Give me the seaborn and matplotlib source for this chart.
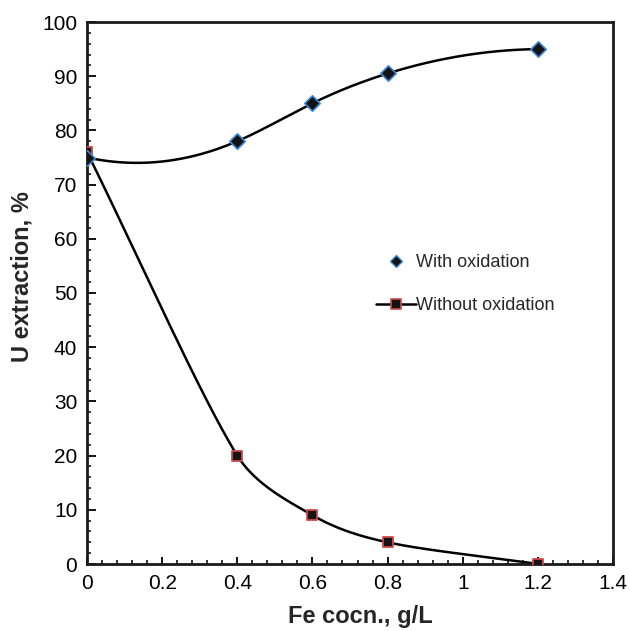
import numpy as np
import pandas as pd
import matplotlib
matplotlib.use("Agg")
import matplotlib.pyplot as plt
from matplotlib.lines import Line2D
from matplotlib.ticker import MultipleLocator, FixedLocator
import seaborn as sns

# ---- data ----
fe_conc = [0.0, 0.4, 0.6, 0.8, 1.2]
with_oxidation = [75.0, 78.0, 85.0, 90.5, 95.0]
without_oxidation = [76.0, 20.0, 9.0, 4.0, 0.0]
x_ticks = [0, 0.2, 0.4, 0.6, 0.8, 1, 1.2, 1.4]
x_tick_labels = ["0", "0.2", "0.4", "0.6", "0.8", "1", "1.2", "1.4"]
y_ticks = [0, 10, 20, 30, 40, 50, 60, 70, 80, 90, 100]
series_labels = ["With oxidation", "Without oxidation"]
x_label = "Fe cocn., g/L"
y_label = "U extraction, %"

X_LIM = (0, 1.4)
Y_LIM = (0, 100)


# ---- smoothing helpers (rendering of the smoothed connecting lines) ----
def spline_curve(x, y, n=400):
    """cubic spline in x with parabolic run-out ends"""
    x = np.asarray(x, float)
    y = np.asarray(y, float)
    k = len(x)
    h = np.diff(x)
    A = np.zeros((k, k))
    b = np.zeros(k)
    A[0, 0], A[0, 1] = 1, -1
    A[-1, -1], A[-1, -2] = 1, -1
    for i in range(1, k - 1):
        A[i, i - 1] = h[i - 1]
        A[i, i] = 2 * (h[i - 1] + h[i])
        A[i, i + 1] = h[i]
        b[i] = 6 * ((y[i + 1] - y[i]) / h[i] - (y[i] - y[i - 1]) / h[i - 1])
    M = np.linalg.solve(A, b)
    xs = np.linspace(x[0], x[-1], n)
    ys = np.empty_like(xs)
    for j, v in enumerate(xs):
        i = min(np.searchsorted(x, v, side="right") - 1, k - 2)
        a = x[i + 1] - v
        c = v - x[i]
        ys[j] = ((M[i] * a ** 3 + M[i + 1] * c ** 3) / (6 * h[i])
                 + (y[i] / h[i] - M[i] * h[i] / 6) * a
                 + (y[i + 1] / h[i] - M[i + 1] * h[i] / 6) * c)
    return xs, ys


def bezier_curve(x, y, sx, sy, n=200, cap=0.35):
    """Catmull-Rom style Bezier smoothing in display proportions,
    control arms limited to a fraction of the segment length"""
    P = np.c_[np.asarray(x, float) * sx, np.asarray(y, float) * sy]
    m = len(P)
    T = np.zeros_like(P)
    for i in range(1, m - 1):
        T[i] = (P[i + 1] - P[i - 1]) / 2
    T[0] = P[1] - P[0]
    T[-1] = P[-1] - P[-2]
    s = np.linspace(0, 1, n)[:, None]
    pts = []
    for i in range(m - 1):
        b0, b3 = P[i], P[i + 1]
        seg = np.hypot(*(b3 - b0))
        a1 = T[i] / 3
        a2 = T[i + 1] / 3
        l1, l2 = np.hypot(*a1), np.hypot(*a2)
        if l1 > cap * seg:
            a1 = a1 * cap * seg / l1
        if l2 > cap * seg:
            a2 = a2 * cap * seg / l2
        b1 = b0 + a1
        b2 = b3 - a2
        c = (1 - s) ** 3 * b0 + 3 * (1 - s) ** 2 * s * b1 + 3 * (1 - s) * s ** 2 * b2 + s ** 3 * b3
        pts.append(c)
    pts = np.vstack(pts)
    return pts[:, 0] / sx, pts[:, 1] / sy


sns.set_theme(style="white")
plt.rcParams["font.family"] = ["Liberation Sans", "DejaVu Sans"]

W, H = 630, 631
fig = plt.figure(figsize=(W / 100, H / 100), dpi=100)
ax_l, ax_r, ax_t, ax_b = 87, 613, 22, 564
ax_w, ax_h = ax_r - ax_l, ax_b - ax_t
ax = fig.add_axes([ax_l / W, (H - ax_b) / H, ax_w / W, ax_h / H])

df = pd.DataFrame({"x": fe_conc, "with": with_oxidation, "without": without_oxidation})

sx = ax_w / (X_LIM[1] - X_LIM[0])
sy = ax_h / (Y_LIM[1] - Y_LIM[0])
ux, uy = spline_curve(fe_conc, with_oxidation)
lx, ly = bezier_curve(fe_conc, without_oxidation, sx, sy)
up_df = pd.DataFrame({"x": ux, "y": uy})
lo_df = pd.DataFrame({"x": lx, "y": ly})

line_w = 1.8
sns.lineplot(data=up_df, x="x", y="y", ax=ax, color="black", lw=line_w, sort=False, zorder=2)
sns.lineplot(data=lo_df, x="x", y="y", ax=ax, color="black", lw=line_w, sort=False, zorder=2)

sq_face, sq_edge = "#141414", "#d04848"
di_face, di_edge = "#141414", "#3f86d6"
sns.scatterplot(data=df, x="x", y="without", ax=ax, marker="s", s=55, color=sq_face,
                edgecolor=sq_edge, linewidth=1.3, zorder=3)
sns.scatterplot(data=df, x="x", y="with", ax=ax, marker="D", s=62, color=di_face,
                edgecolor=di_edge, linewidth=1.2, zorder=4)

ax.set_xlim(*X_LIM)
ax.set_ylim(*Y_LIM)
ax.xaxis.set_major_locator(FixedLocator(x_ticks))
ax.set_xticklabels(x_tick_labels)
ax.xaxis.set_minor_locator(MultipleLocator(0.04))
ax.yaxis.set_major_locator(FixedLocator(y_ticks))
ax.yaxis.set_minor_locator(MultipleLocator(2))
ax.tick_params(axis="both", which="major", direction="in", width=1.3,
               labelsize=15, colors="black", bottom=True, left=True)
ax.tick_params(axis="both", which="minor", direction="in", length=3.2, width=1.3,
               bottom=True, left=True)
ax.tick_params(axis="x", which="major", length=5, pad=7)
ax.tick_params(axis="y", which="major", length=6.5, pad=7)
ax.set_xlabel("")
ax.set_ylabel("")

for sp in ax.spines.values():
    sp.set_visible(True)
    sp.set_color("#1a1a1a")
    sp.set_linewidth(2.0)

fig.text(288 / W, (H - 623) / H, x_label, fontsize=17, fontweight="bold",
         ha="left", va="baseline")
fig.text(22.5 / W, (H - 276.5) / H, y_label, fontsize=17, fontweight="bold",
         rotation=90, ha="center", va="center")

handles = [
    Line2D([], [], linestyle="none", marker="D", markersize=6.5, markerfacecolor=di_face,
           markeredgecolor=di_edge, markeredgewidth=1.0),
    Line2D([], [], color="black", lw=line_w, marker="s", markersize=7.5, markerfacecolor=sq_face,
           markeredgecolor=sq_edge, markeredgewidth=1.2),
]
ax.legend(handles, series_labels, frameon=False, fontsize=13,
          loc="center left", bbox_to_anchor=(0.532, 0.5166), labelspacing=1.45,
          handlelength=2.2, handletextpad=0.05, borderpad=0)

fig.savefig("out.png", dpi=100)
